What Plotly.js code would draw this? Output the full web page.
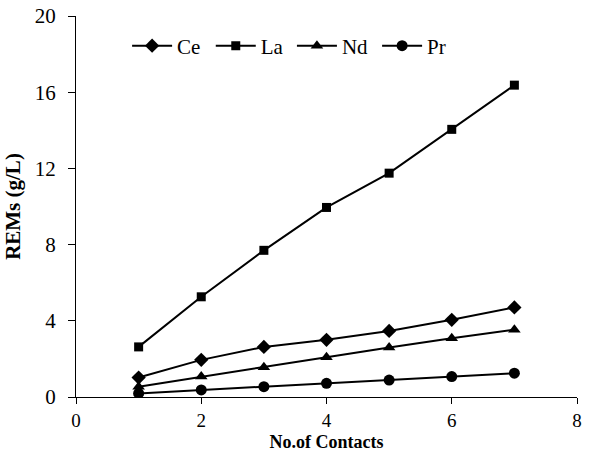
<!DOCTYPE html>
<html><head><meta charset="utf-8">
<script src="https://cdn.plot.ly/plotly-3.0.1.min.js"></script>
<style>html,body{margin:0;padding:0;background:#fff}</style>
</head><body><div id="chart" style="width:589px;height:452px"></div>
<script>
var contacts = [1, 2, 3, 4, 5, 6, 7];
var ce = [1.02, 1.95, 2.63, 3.0, 3.47, 4.05, 4.7];
var la = [2.63, 5.26, 7.7, 9.95, 11.75, 14.05, 16.37];
var nd = [0.54, 1.07, 1.56, 2.09, 2.6, 3.09, 3.53];
var pr = [0.19, 0.37, 0.54, 0.72, 0.89, 1.07, 1.25];
var xTicks = [0, 2, 4, 6, 8];
var yTicks = [0, 4, 8, 12, 16, 20];

function tr(name, y, sym, size, leg) {
  return {x: contacts, y: y, name: name, mode: 'lines+markers', type: 'scatter', legend: leg,
    line: {color: '#000', width: 2}, marker: {symbol: sym, size: size, color: '#000'}};
}
var data = [tr('Ce', ce, 'diamond', 11, 'legend'), tr('La', la, 'square', 9, 'legend2'),
            tr('Nd', nd, 'triangle-up', 11, 'legend3'), tr('Pr', pr, 'circle', 11, 'legend4')];
var fam = 'Liberation Serif';
function leg(x) {
  return {orientation: 'h', x: x, y: 0.975, xanchor: 'left', yanchor: 'top', bgcolor: 'rgba(0,0,0,0)',
    font: {family: fam, color: '#000', size: 21}, itemwidth: 40};
}
var layout = {
  width: 589, height: 452,
  margin: {l: 76, r: 12, t: 16, b: 55},
  paper_bgcolor: '#fff', plot_bgcolor: '#fff',
  font: {family: fam, color: '#000', size: 18},
  showlegend: true,
  legend: leg(0.102), legend2: leg(0.269), legend3: leg(0.431), legend4: leg(0.601),
  xaxis: {range: [0, 8], tickvals: xTicks, ticktext: xTicks.map(String), showgrid: false, zeroline: false,
    showline: true, linecolor: '#000', linewidth: 1, ticks: 'outside', ticklen: 6, tickcolor: '#000',
    ticklabelstandoff: 0, automargin: false,
    tickfont: {family: fam, color: '#000', size: 19},
    title: {text: '<b>No.of Contacts</b>', font: {family: fam, color: '#000', size: 18}}},
  yaxis: {range: [0, 20], tickvals: yTicks, ticktext: yTicks.map(String), showgrid: false, zeroline: false,
    showline: true, linecolor: '#000', linewidth: 1, ticks: 'outside', ticklen: 7, tickcolor: '#000',
    ticklabelstandoff: 8,
    tickfont: {family: fam, color: '#000', size: 21},
    title: {text: '<b>REMs (g/L)</b>', font: {family: fam, color: '#000', size: 21}, standoff: 8}}
};
Plotly.newPlot('chart', data, layout, {displayModeBar: false, staticPlot: true});
</script></body></html>
